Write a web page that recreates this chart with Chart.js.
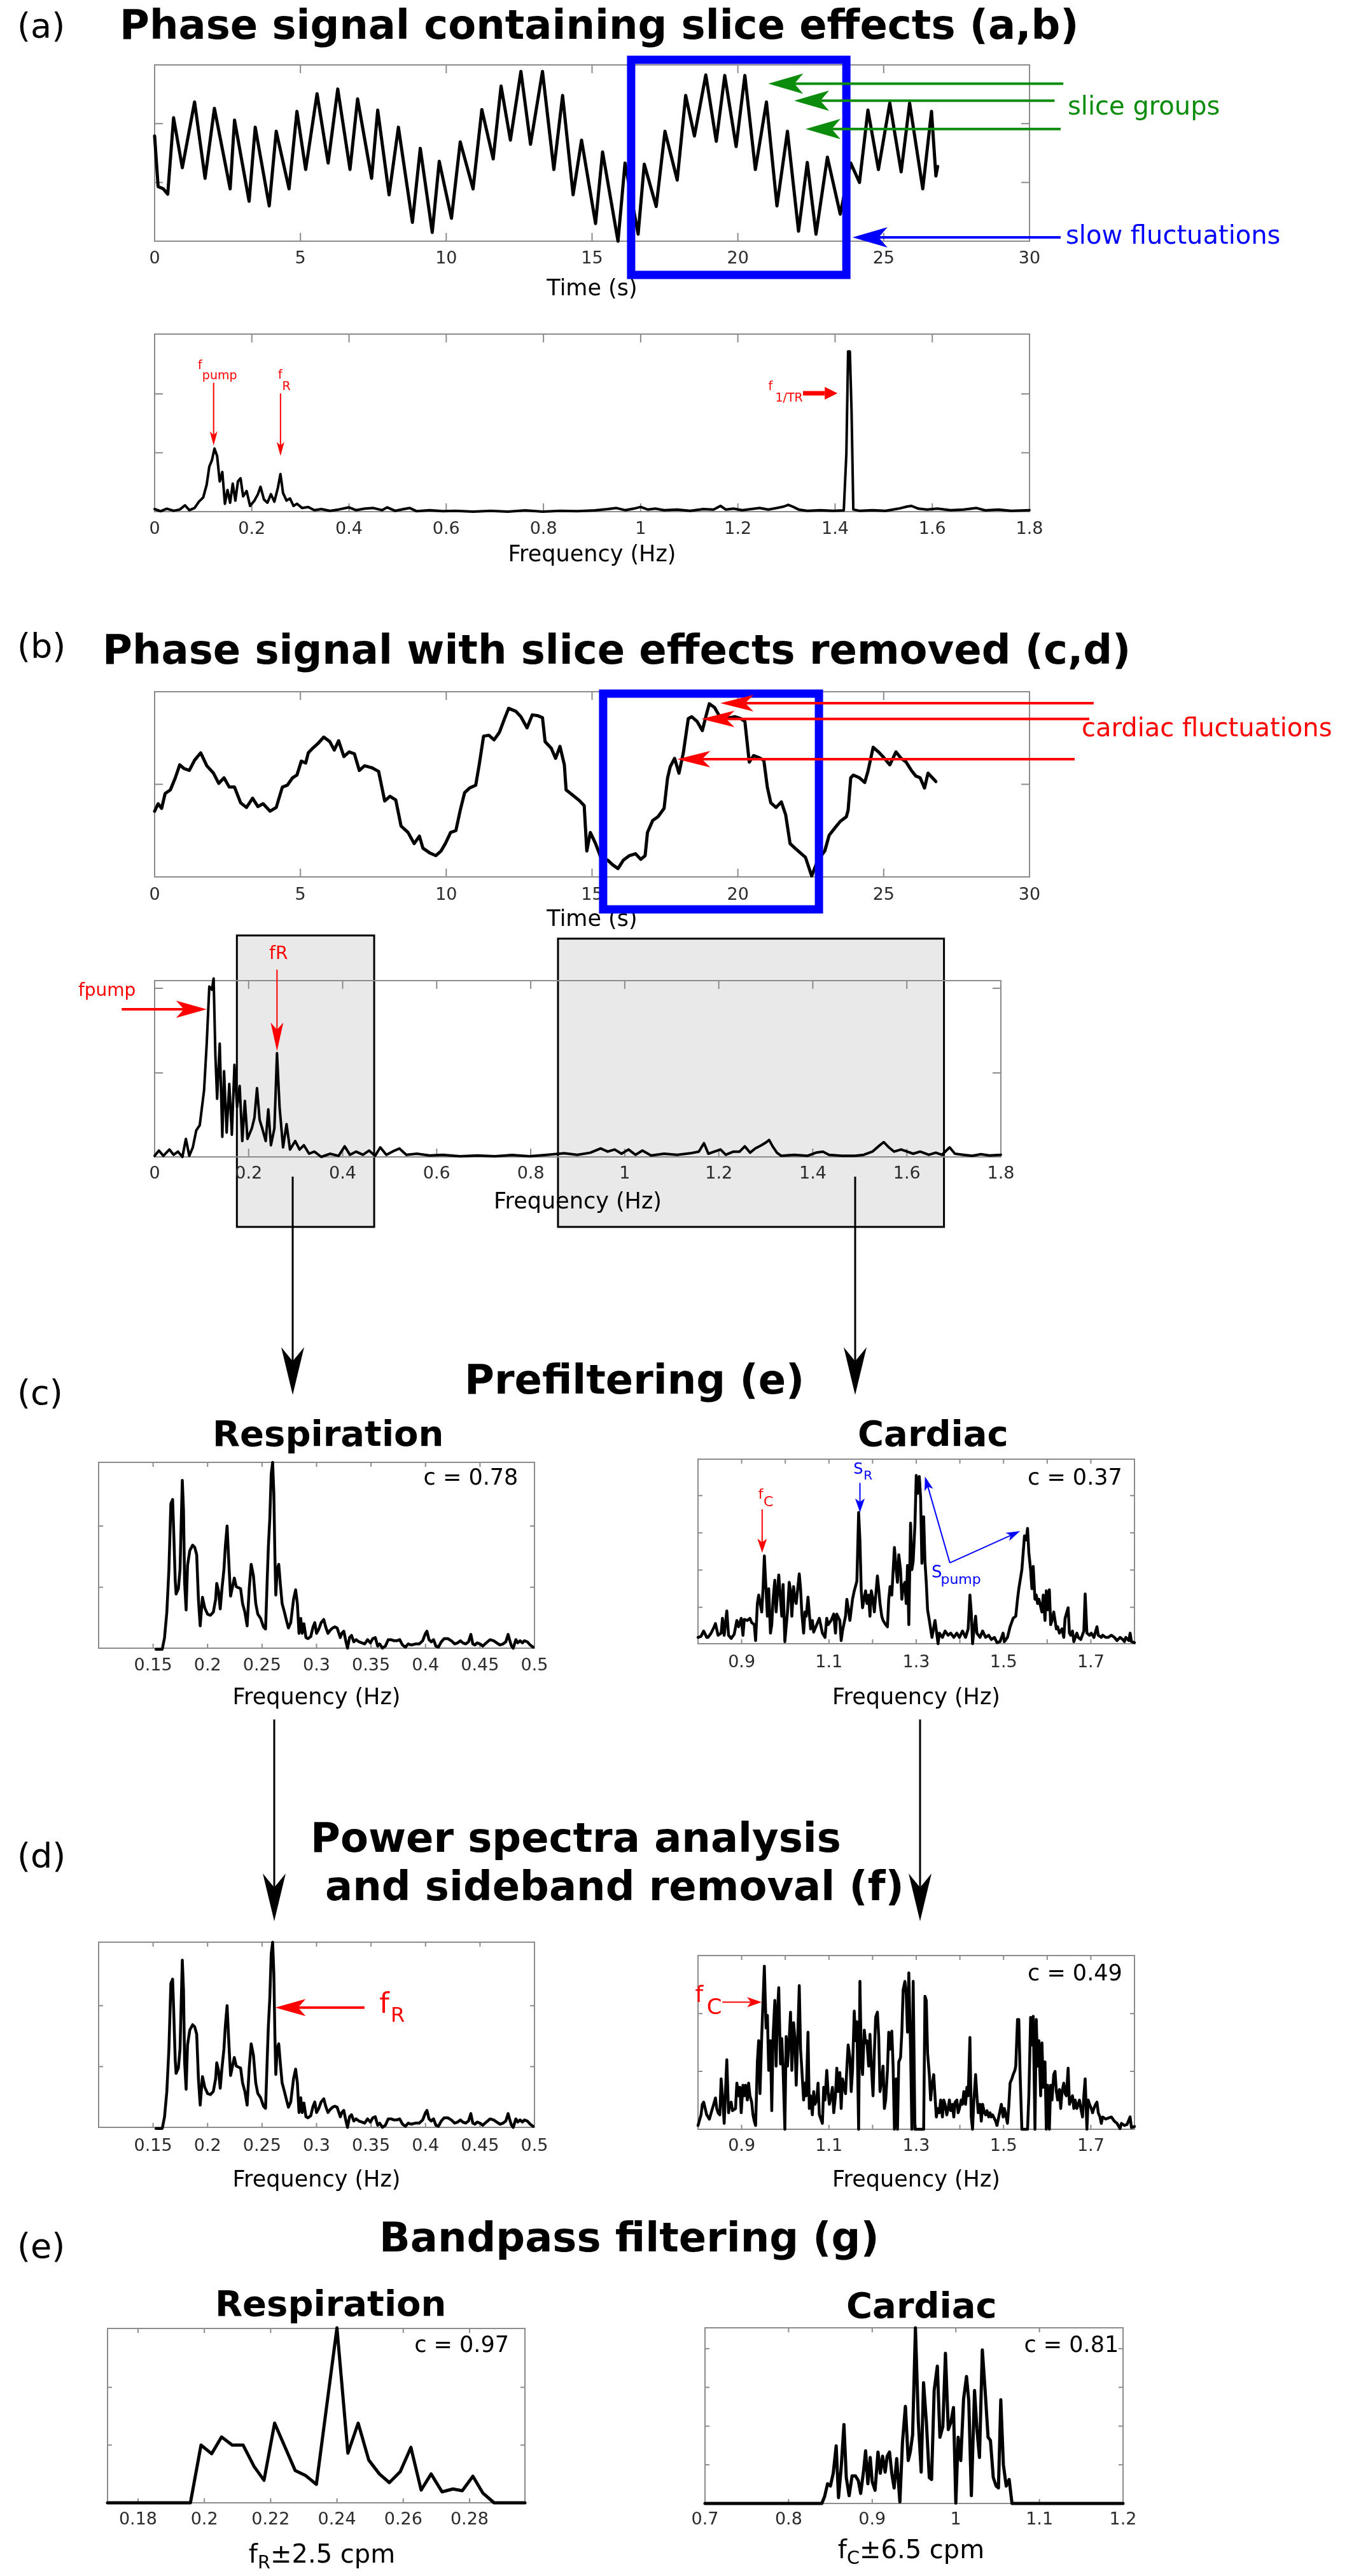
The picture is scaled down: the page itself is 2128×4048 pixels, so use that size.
<!DOCTYPE html>
<html>
<head>
<meta charset="utf-8">
<script src="https://cdn.jsdelivr.net/npm/chart.js@4.4.1/dist/chart.umd.min.js"></script>
<style>
  html, body { margin: 0; padding: 0; background: #fff; }
  #page { position: relative; width: 2128px; height: 4048px; overflow: hidden; font-family: 'DejaVu Sans', sans-serif; }
  #page canvas { position: absolute; }
  .txt { position: absolute; white-space: nowrap; line-height: 1; font-family: 'DejaVu Sans', sans-serif; }
  .txt sub { font-size: 0.72em; vertical-align: baseline; position: relative; top: 0.3em; line-height: 0; }
  #links { position: absolute; left: 0; top: 0; }
</style>
</head>
<body>
<div id="page">
  <svg id="links" width="2128" height="4048"></svg>
</div>
<script>
// ---- data ----

// (a) phase signal with slice effects, time (s) / arbitrary phase units
const sliceT = [0.00,0.12,0.30,0.45,0.65,0.95,1.37,1.73,2.05,2.59,2.74,3.24,3.45,3.93,4.17,4.61,4.88,5.18,5.57,5.95,
  6.28,6.70,6.96,7.44,7.65,8.04,8.36,8.84,9.11,9.52,9.76,10.18,10.48,10.92,11.22,11.61,11.88,12.20,12.56,12.89,
  13.30,13.69,13.99,14.35,14.64,15.12,15.36,15.89,16.13,16.58,16.79,17.20,17.50,17.92,18.21,18.51,18.90,19.26,19.55,19.94,
  20.24,20.60,20.98,21.34,21.70,22.08,22.38,22.68,23.07,23.51,23.87,24.17,24.46,24.82,25.21,25.60,25.89,26.34,26.64,26.79,26.85];
const sliceV = [179,93,89,80,210,125,237,107,226,89,206,68,194,60,187,89,221,122,251,133,
  259,122,242,107,223,79,194,32,158,15,136,39,169,89,224,140,264,172,289,165,
  289,122,248,79,172,30,152,0,133,12,131,59,187,104,248,179,283,170,282,161,
  282,122,237,60,187,17,134,12,143,46,133,100,223,122,235,118,235,89,221,111,127];

// (a) spectrum of the raw phase signal
const rawSpecF = [0,0.0125,0.025,0.0393,0.0518,0.0625,0.0714,0.0821,0.0911,0.1,
  0.1071,0.1125,0.1179,0.1232,0.1286,0.1339,0.1393,0.1446,0.15,0.1554,
  0.1607,0.1661,0.1714,0.1768,0.1821,0.1893,0.1964,0.2054,0.2125,0.2179,
  0.225,0.2321,0.2393,0.2464,0.2536,0.2589,0.2643,0.2714,0.2786,0.2857,
  0.2929,0.3036,0.3161,0.3286,0.3429,0.3607,0.3786,0.4,0.4143,0.4321,
  0.45,0.4679,0.4786,0.4946,0.5125,0.525,0.5393,0.5661,0.5929,0.6196,
  0.6554,0.6911,0.7268,0.7625,0.7982,0.8339,0.8696,0.9054,0.9321,0.95,
  0.9679,0.9857,1.0,1.0143,1.0304,1.0482,1.075,1.1018,1.1286,1.15,
  1.1643,1.175,1.1911,1.2089,1.2268,1.2446,1.2625,1.2804,1.2946,1.3036,
  1.3125,1.325,1.3429,1.3696,1.3964,1.4179,1.4232,1.4268,1.4304,1.4339,
  1.4375,1.45,1.4768,1.5036,1.5304,1.5482,1.5571,1.5714,1.5893,1.6107,
  1.6375,1.6643,1.6911,1.7089,1.7357,1.7625,1.8];
const rawSpecP = [12,2,14,4,10,30,7,17,47,67,
  127,212,242,297,262,142,187,37,102,42,
  132,52,142,157,72,97,27,52,82,117,
  57,42,82,47,112,177,87,52,62,27,
  37,17,22,7,12,4,10,20,7,14,
  17,7,20,4,12,17,2,7,2,4,
  0,4,0,6,0,4,2,6,12,17,
  7,14,22,10,14,7,10,4,12,10,
  27,10,14,7,12,17,10,17,24,32,
  24,10,4,7,4,6,272,754,754,472,
  10,4,7,4,14,24,27,14,10,14,
  7,10,17,6,10,4,7];

// (b) phase signal with slice effects removed
const cleanT = [0.00,0.12,0.24,0.36,0.54,0.71,0.86,1.01,1.19,1.37,1.58,1.79,2.02,2.20,2.38,2.56,2.74,2.95,3.15,3.36,
  3.54,3.72,3.96,4.17,4.38,4.55,4.73,4.88,5.03,5.18,5.27,5.42,5.60,5.80,6.01,6.16,6.31,6.49,6.67,6.85,
  7.02,7.20,7.44,7.68,7.89,8.07,8.27,8.45,8.69,8.90,9.08,9.20,9.43,9.64,9.82,9.97,10.15,10.33,10.48,10.63,
  10.80,11.01,11.13,11.28,11.46,11.64,11.82,12.00,12.14,12.38,12.56,12.77,12.95,13.15,13.30,13.39,13.60,13.75,13.90,14.05,
  14.11,14.35,14.58,14.73,14.82,14.94,15.12,15.30,15.54,15.71,15.89,16.07,16.28,16.49,16.67,16.82,16.90,17.08,17.26,17.47,
  17.59,17.68,17.83,17.98,18.13,18.30,18.42,18.60,18.78,18.90,19.02,19.20,19.38,19.55,19.73,19.91,20.09,20.24,20.39,20.54,
  20.71,20.89,21.01,21.13,21.31,21.49,21.64,21.79,21.96,22.14,22.32,22.53,22.74,22.98,23.13,23.33,23.51,23.72,23.78,23.87,
  23.96,24.17,24.35,24.46,24.64,24.82,25.00,25.21,25.42,25.60,25.77,25.95,26.10,26.25,26.40,26.52,26.67,26.79];
const cleanV = [71,79,74,90,94,107,121,117,115,126,134,120,112,101,107,97,97,80,75,85,
  76,79,71,75,97,99,107,110,125,123,134,139,144,151,146,137,147,130,135,133,
  115,120,118,114,82,87,83,55,48,36,44,31,26,23,28,36,48,50,72,91,
  96,99,121,152,153,148,156,171,182,179,173,161,175,174,172,146,139,128,141,121,
  94,88,82,77,28,48,36,21,18,13,9,18,23,25,19,23,48,61,65,74,
  107,119,128,112,134,171,173,168,158,173,187,183,173,171,172,173,171,168,124,131,
  129,126,97,80,75,81,67,36,31,26,21,1,18,28,45,53,60,65,72,107,
  110,107,102,114,140,135,129,121,135,128,124,115,109,107,96,112,107,103];

// (b) spectrum of the cleaned signal
const cleanSpecF = [0,0.0092,0.0185,0.0314,0.0406,0.0498,0.0591,0.0665,0.0738,0.0812,
  0.0886,0.096,0.1052,0.1108,0.1163,0.1218,0.1255,0.1292,0.1329,0.1385,
  0.144,0.1477,0.1532,0.1588,0.1643,0.1698,0.1754,0.1809,0.1865,0.192,
  0.1975,0.2068,0.2123,0.2178,0.2234,0.2289,0.2363,0.2418,0.2474,0.2548,
  0.2603,0.2658,0.2732,0.2806,0.288,0.2991,0.3083,0.3175,0.3286,0.3397,
  0.3545,0.3729,0.3914,0.4043,0.4154,0.4283,0.4431,0.456,0.4689,0.48,
  0.4929,0.5058,0.5206,0.5354,0.5575,0.5852,0.6129,0.6498,0.6868,0.7237,
  0.7606,0.7975,0.8345,0.8714,0.8991,0.9268,0.9489,0.9637,0.9785,0.9932,
  1.008,1.0228,1.0375,1.056,1.0837,1.1114,1.1391,1.1575,1.1686,1.1778,
  1.1908,1.2037,1.2148,1.2314,1.2443,1.2554,1.2665,1.2775,1.2905,1.3015,
  1.3071,1.3145,1.3237,1.3329,1.3606,1.3883,1.4068,1.4215,1.4345,1.4622,
  1.4898,1.5083,1.5268,1.5397,1.5508,1.5618,1.5729,1.5877,1.6006,1.6135,
  1.6283,1.6468,1.6615,1.6745,1.6911,1.7022,1.7206,1.7391,1.7575,1.776,1.8];
const cleanSpecP = [5,30,5,35,10,25,0,85,5,45,
  125,150,315,535,805,790,843,485,275,535,
  95,405,115,345,105,435,235,335,75,265,
  85,135,185,325,175,135,75,225,55,135,
  490,235,45,155,35,75,35,55,15,25,
  0,15,5,50,10,25,10,30,5,45,
  10,25,40,10,15,7,10,3,7,3,
  9,3,10,17,10,20,40,25,35,15,
  35,10,30,7,15,10,17,25,65,15,
  25,35,10,25,25,50,20,40,55,70,
  80,50,20,5,10,5,20,25,10,5,
  5,10,25,50,70,45,25,35,25,15,
  25,10,20,10,45,15,10,5,13,7,10];

// (c)/(d) respiration band spectrum
const respF = [0.1526,0.1584,0.1605,0.1626,0.1645,0.1663,0.1679,0.1689,0.1703,0.1711,
  0.1732,0.1747,0.1768,0.1779,0.1789,0.1803,0.1816,0.1837,0.1863,0.1882,
  0.19,0.1916,0.1932,0.1953,0.1974,0.2,0.2026,0.2053,0.2074,0.2084,
  0.21,0.2116,0.2132,0.215,0.2163,0.2179,0.2197,0.2211,0.2229,0.2245,
  0.2263,0.2282,0.2303,0.2321,0.2342,0.2363,0.2382,0.24,0.2421,0.2442,
  0.2461,0.2487,0.2513,0.2532,0.2545,0.2558,0.2571,0.2584,0.2597,0.2608,
  0.2618,0.2626,0.2639,0.2653,0.2668,0.2684,0.2705,0.2724,0.2742,0.2763,
  0.2789,0.2808,0.2824,0.2839,0.2855,0.2868,0.2884,0.2903,0.2921,0.2947,
  0.2968,0.2984,0.3,0.3021,0.3042,0.3066,0.3084,0.3105,0.3126,0.3147,
  0.3168,0.3189,0.3205,0.3218,0.3232,0.325,0.3268,0.3284,0.3303,0.3321,
  0.3342,0.3363,0.3389,0.3416,0.3442,0.3468,0.3495,0.3516,0.3539,0.3561,
  0.3579,0.3605,0.3632,0.3658,0.3684,0.3711,0.3737,0.3763,0.3789,0.3816,
  0.3842,0.3868,0.3908,0.3942,0.3974,0.4,0.4013,0.4032,0.4053,0.4074,
  0.4095,0.4118,0.4145,0.4171,0.4205,0.4237,0.4268,0.4295,0.4321,0.4342,
  0.4368,0.4395,0.4416,0.4434,0.4453,0.4474,0.45,0.4526,0.4558,0.4592,
  0.4626,0.4653,0.4684,0.4711,0.4737,0.4758,0.4771,0.4789,0.4805,0.4829,
  0.4847,0.4868,0.4889,0.4908,0.4934,0.4961,0.4987];
const respP = [-5,-5,50,170,370,680,700,550,320,255,
  280,370,790,650,310,180,390,460,485,475,
  440,230,105,240,190,160,155,170,230,305,
  270,185,280,370,480,575,380,245,290,330,
  290,285,280,210,170,105,280,395,340,210,
  160,140,100,90,290,480,610,820,875,730,
  430,250,370,395,300,210,170,130,95,120,
  230,275,210,70,140,70,115,50,45,55,
  100,120,70,90,120,135,100,70,85,95,
  100,95,70,50,70,80,35,0,50,60,
  30,40,30,25,20,40,25,45,50,10,
  20,0,10,40,40,35,35,40,15,5,
  20,15,20,20,35,70,80,40,30,40,
  10,5,30,45,45,35,20,25,35,25,
  20,30,65,20,15,25,20,10,25,40,
  35,25,15,20,30,65,40,10,0,40,
  25,35,25,35,30,15,5];

// (c) cardiac band spectrum after prefiltering
const cardPreF = [0.800,0.807,0.813,0.820,0.823,0.830,0.836,0.840,0.846,0.853,
  0.856,0.860,0.866,0.870,0.876,0.883,0.889,0.893,0.899,0.903,
  0.906,0.913,0.919,0.923,0.929,0.932,0.936,0.939,0.946,0.949,
  0.952,0.956,0.959,0.962,0.966,0.969,0.972,0.976,0.979,0.985,
  0.989,0.992,0.995,0.999,1.005,1.009,1.012,1.015,1.019,1.022,
  1.025,1.032,1.035,1.038,1.042,1.045,1.048,1.052,1.058,1.062,
  1.065,1.072,1.078,1.085,1.091,1.095,1.098,1.105,1.111,1.115,
  1.118,1.125,1.128,1.131,1.138,1.141,1.144,1.148,1.154,1.158,
  1.164,1.168,1.171,1.174,1.177,1.181,1.184,1.187,1.191,1.194,
  1.197,1.201,1.204,1.211,1.214,1.217,1.221,1.224,1.230,1.234,
  1.237,1.240,1.244,1.250,1.254,1.257,1.260,1.264,1.267,1.270,
  1.274,1.277,1.280,1.283,1.287,1.290,1.293,1.297,1.300,1.303,
  1.307,1.310,1.313,1.317,1.320,1.323,1.326,1.330,1.336,1.343,
  1.350,1.353,1.360,1.366,1.373,1.379,1.386,1.393,1.399,1.406,
  1.413,1.419,1.423,1.426,1.429,1.432,1.436,1.439,1.446,1.452,
  1.459,1.466,1.472,1.479,1.485,1.492,1.499,1.502,1.509,1.515,
  1.522,1.528,1.532,1.535,1.542,1.545,1.548,1.552,1.555,1.558,
  1.562,1.565,1.568,1.572,1.575,1.578,1.581,1.588,1.591,1.595,
  1.598,1.601,1.605,1.608,1.611,1.615,1.621,1.624,1.628,1.634,
  1.638,1.641,1.648,1.651,1.654,1.658,1.661,1.668,1.671,1.677,
  1.684,1.687,1.691,1.697,1.701,1.707,1.714,1.717,1.724,1.727,
  1.734,1.740,1.747,1.754,1.760,1.767,1.773,1.777,1.780,1.787,
  1.790,1.793,1.800];
const cardPreP = [30,35,60,30,30,50,75,95,40,50,
  120,40,155,40,25,45,110,80,120,40,
  115,110,120,100,90,15,190,230,150,260,
  415,250,130,260,50,90,210,300,150,325,
  210,130,280,10,150,290,250,130,270,210,
  190,330,260,140,50,150,130,220,70,110,
  55,90,120,50,30,120,90,110,140,50,
  140,110,15,60,130,210,170,110,210,250,
  295,620,490,250,170,220,250,190,230,130,
  250,210,150,320,260,190,130,110,90,80,
  210,270,230,455,350,290,420,350,210,270,
  290,190,370,90,570,350,390,560,795,710,
  790,690,380,600,390,290,160,110,30,110,
  0,50,30,60,40,50,30,50,30,60,
  30,70,230,150,0,60,130,50,30,60,
  30,40,20,30,5,10,50,10,30,80,
  120,130,210,260,350,430,510,490,545,430,
  350,260,365,210,230,190,210,150,230,110,
  250,160,255,90,110,150,70,80,50,70,
  30,120,170,50,40,60,10,50,30,20,
  60,235,50,40,50,30,80,40,30,40,
  30,30,40,30,15,30,20,10,30,15,
  50,10,5];

// (d) cardiac band spectrum after sideband removal
const cardPostF = [0.800,0.807,0.810,0.813,0.820,0.823,0.826,0.833,0.836,0.840,
  0.843,0.846,0.850,0.853,0.856,0.860,0.866,0.870,0.873,0.876,
  0.879,0.886,0.889,0.893,0.896,0.899,0.903,0.906,0.909,0.913,
  0.916,0.919,0.923,0.926,0.929,0.932,0.936,0.939,0.942,0.946,
  0.952,0.956,0.959,0.962,0.966,0.969,0.972,0.976,0.979,0.982,
  0.985,0.989,0.992,0.995,0.999,1.002,1.005,1.009,1.012,1.015,
  1.019,1.022,1.025,1.028,1.032,1.035,1.038,1.042,1.045,1.048,
  1.052,1.055,1.058,1.062,1.065,1.068,1.072,1.075,1.078,1.085,
  1.088,1.091,1.095,1.098,1.101,1.105,1.108,1.111,1.115,1.118,
  1.121,1.125,1.128,1.131,1.138,1.141,1.144,1.148,1.151,1.154,
  1.158,1.161,1.164,1.168,1.171,1.174,1.177,1.181,1.184,1.187,
  1.191,1.194,1.197,1.201,1.204,1.207,1.211,1.214,1.217,1.221,
  1.224,1.227,1.230,1.234,1.237,1.240,1.244,1.247,1.250,1.254,
  1.257,1.260,1.264,1.267,1.270,1.274,1.277,1.280,1.283,1.287,
  1.290,1.293,1.297,1.317,1.320,1.323,1.326,1.330,1.333,1.336,
  1.340,1.343,1.346,1.350,1.353,1.356,1.360,1.363,1.366,1.370,
  1.373,1.376,1.379,1.383,1.386,1.389,1.393,1.396,1.399,1.403,
  1.406,1.409,1.413,1.416,1.419,1.423,1.426,1.429,1.432,1.436,
  1.439,1.442,1.446,1.449,1.452,1.456,1.459,1.462,1.466,1.469,
  1.472,1.475,1.482,1.485,1.489,1.492,1.495,1.499,1.502,1.509,
  1.512,1.515,1.519,1.522,1.526,1.528,1.532,1.535,1.538,1.542,
  1.555,1.558,1.562,1.565,1.568,1.572,1.575,1.578,1.581,1.585,
  1.588,1.591,1.595,1.598,1.601,1.605,1.608,1.611,1.615,1.618,
  1.621,1.624,1.628,1.631,1.634,1.638,1.641,1.644,1.648,1.651,
  1.654,1.658,1.661,1.664,1.668,1.671,1.674,1.677,1.681,1.684,
  1.687,1.691,1.694,1.697,1.701,1.704,1.707,1.711,1.714,1.717,
  1.721,1.724,1.727,1.734,1.740,1.747,1.754,1.760,1.767,1.770,
  1.777,1.783,1.790,1.793,1.800];
const cardPostP = [18,68,118,128,68,58,48,98,118,148,
  98,78,68,238,158,28,328,78,118,128,
  88,98,218,158,198,78,208,158,208,138,
  218,158,128,68,38,18,318,418,168,438,
  770,478,538,278,418,88,438,608,298,548,
  668,308,428,278,0,438,298,428,553,278,
  503,428,208,398,678,378,278,138,218,158,
  458,98,158,68,178,118,138,218,68,28,
  198,138,278,178,118,158,198,78,158,288,
  178,268,98,238,168,288,398,338,178,278,
  558,418,508,0,698,338,258,468,408,418,
  298,448,308,158,358,528,553,438,178,238,
  298,98,138,278,458,378,463,298,0,238,
  0,318,338,458,658,698,638,458,738,378,
  0,698,0,0,628,608,358,258,138,208,
  258,158,58,98,78,138,58,138,118,68,
  98,138,88,118,58,128,138,78,98,138,
  118,178,118,198,158,433,58,0,138,258,
  158,78,118,38,118,78,68,88,58,78,
  58,68,38,18,58,88,118,58,98,28,
  108,218,238,258,278,298,518,518,258,0,
  0,158,528,398,533,0,518,298,418,158,
  408,198,318,0,208,0,208,138,258,273,
  178,138,188,98,178,218,168,158,288,118,
  138,158,98,138,98,118,138,98,58,158,
  238,0,138,118,98,78,98,118,128,78,
  58,28,58,48,53,58,38,28,3,28,
  18,23,58,8,13];

// (e) bandpass filtered spectra
const bandRespF = [0.1708,0.1958,0.199,0.2022,0.2052,0.2084,0.2117,0.215,0.218,0.2212,
  0.2243,0.2274,0.2306,0.2338,0.24,0.2433,0.2464,0.2496,0.2528,0.2558,
  0.2591,0.2623,0.2654,0.2684,0.2717,0.275,0.2778,0.281,0.284,0.2874,0.2967];
const bandRespP = [0,0,100,85,114,100,100,63,39,138,
  97,56,47,32,303,86,138,74,50,35,
  54,96,22,50,19,24,21,46,17,0,0];
const bandCardF = [0.7,0.8397,0.8431,0.8466,0.85,0.8534,0.8569,0.8597,0.8628,0.8662,
  0.869,0.8724,0.8759,0.88,0.8834,0.8862,0.8897,0.8921,0.8948,0.8976,
  0.9,0.9034,0.9069,0.9097,0.9124,0.9155,0.9179,0.9207,0.9234,0.9262,
  0.9293,0.9331,0.9362,0.9397,0.9431,0.9455,0.9483,0.9517,0.9552,0.9586,
  0.9614,0.9648,0.9683,0.971,0.9741,0.9779,0.981,0.9845,0.9876,0.991,
  0.9941,0.9972,1.0,1.0028,1.0059,1.0093,1.0128,1.0155,1.0186,1.0224,
  1.0252,1.0283,1.0317,1.0352,1.0386,1.0414,1.0448,1.0483,1.051,1.0538,
  1.0569,1.0603,1.0638,1.0672,1.2];
const bandCardP = [0,0,18,51,45,78,149,15,90,204,
  67,20,71,71,59,26,84,136,51,119,
  56,34,133,78,122,81,122,133,78,40,
  116,4,158,251,111,133,177,454,210,81,
  312,210,67,62,292,355,171,199,388,191,
  210,248,1,171,111,270,328,265,20,292,
  193,119,397,287,171,163,67,45,40,268,
  100,45,62,0,0];

// tick positions / labels
const timeTicks = [0, 5, 10, 15, 20, 25, 30];
const freqTicks = [0, 0.2, 0.4, 0.6, 0.8, 1, 1.2, 1.4, 1.6, 1.8];
const respTicks = [0.15, 0.2, 0.25, 0.3, 0.35, 0.4, 0.45, 0.5];
const cardTicks = [0.9, 1.0, 1.1, 1.2, 1.3, 1.4, 1.5, 1.6, 1.7];
const cardTickLabels = ['0.9', '', '1.1', '', '1.3', '', '1.5', '', '1.7'];
const bandRespTicks = [0.18, 0.2, 0.22, 0.24, 0.26, 0.28];
const bandCardTicks = [0.7, 0.8, 0.9, 1, 1.1, 1.2];

// ---- drawing ----
const RED = '#ff0000', BLUE = '#0000ff', GREEN = '#0c8c0c';
const TICK_FONT = { family: 'DejaVu Sans', size: 27, lineHeight: 1.2 };
const TITLE_FONT = { family: 'DejaVu Sans', size: 35, lineHeight: 1.2 };
const page = document.getElementById('page');
const pts = (xs, ys) => xs.map((x, i) => ({ x, y: ys[i] }));
const fmtTick = v => String(Math.round(v * 1000) / 1000);

function drawArrow(ctx, x1, y1, x2, y2, a) {
  const ang = Math.atan2(y2 - y1, x2 - x1);
  const ux = Math.cos(ang), uy = Math.sin(ang);
  const len = a.head[0], half = a.head[1] / 2;
  const notch = len * (a.notch === undefined ? 0.25 : a.notch);
  const bx = x2 - ux * len, by = y2 - uy * len;
  const nx = x2 - ux * (len - notch), ny = y2 - uy * (len - notch);
  ctx.save();
  ctx.strokeStyle = a.color; ctx.fillStyle = a.color; ctx.lineWidth = a.w;
  ctx.beginPath(); ctx.moveTo(x1, y1); ctx.lineTo(nx, ny); ctx.stroke();
  ctx.beginPath();
  ctx.moveTo(x2, y2);
  ctx.lineTo(bx - uy * half, by + ux * half);
  ctx.lineTo(nx, ny);
  ctx.lineTo(bx + uy * half, by - ux * half);
  ctx.closePath(); ctx.fill();
  ctx.restore();
}

function deco(c) {
  return {
    id: 'deco',
    beforeDraw(chart) {
      const { ctx, chartArea: a } = chart, sx = chart.scales.x;
      (c.bands || []).forEach(b => {
        const x0 = sx.getPixelForValue(b.x0), x1 = sx.getPixelForValue(b.x1);
        const y0 = a.top + b.top, y1 = a.bottom + b.bottom;
        ctx.save();
        ctx.fillStyle = '#e9e9e9';
        ctx.fillRect(x0, y0, x1 - x0, y1 - y0);
        ctx.strokeStyle = '#000'; ctx.lineWidth = 3;
        ctx.strokeRect(x0, y0, x1 - x0, y1 - y0);
        ctx.restore();
      });
    },
    beforeDatasetsDraw(chart) {
      const { ctx, chartArea: a } = chart, sx = chart.scales.x, sy = chart.scales.y;
      const L = c.tickLen;
      ctx.save();
      ctx.strokeStyle = '#8c8c8c'; ctx.lineWidth = 2;
      ctx.strokeRect(a.left, a.top, a.right - a.left, a.bottom - a.top);
      ctx.beginPath();
      c.xTicks.forEach(v => {
        const X = sx.getPixelForValue(v);
        ctx.moveTo(X, a.bottom); ctx.lineTo(X, a.bottom - L);
        ctx.moveTo(X, a.top); ctx.lineTo(X, a.top + L);
      });
      c.yTicks.forEach(v => {
        const Y = sy.getPixelForValue(v);
        ctx.moveTo(a.left, Y); ctx.lineTo(a.left + L, Y);
        ctx.moveTo(a.right, Y); ctx.lineTo(a.right - L, Y);
      });
      ctx.stroke();
      ctx.restore();
    },
    afterDraw(chart) {
      const { ctx, chartArea: a } = chart, sx = chart.scales.x, sy = chart.scales.y;
      (c.boxes || []).forEach(b => {
        const x0 = sx.getPixelForValue(b.x0), x1 = sx.getPixelForValue(b.x1);
        ctx.save();
        ctx.strokeStyle = BLUE; ctx.lineWidth = 13;
        ctx.strokeRect(x0, a.top + b.top, x1 - x0, a.bottom + b.bottom - a.top - b.top);
        ctx.restore();
      });
      (c.arrows || []).forEach(ar => {
        drawArrow(ctx, sx.getPixelForValue(ar.from[0]), sy.getPixelForValue(ar.from[1]),
          sx.getPixelForValue(ar.to[0]), sy.getPixelForValue(ar.to[1]), ar);
      });
      (c.texts || []).forEach(t => {
        ctx.save();
        ctx.font = t.size + 'px "DejaVu Sans"';
        ctx.fillStyle = t.color || '#000';
        ctx.textAlign = t.align || 'left';
        ctx.textBaseline = 'alphabetic';
        ctx.fillText(t.t, sx.getPixelForValue(t.x), sy.getPixelForValue(t.y));
        ctx.restore();
      });
    }
  };
}

function panel(g, c) {
  const tickPad = g.labelY - g.b - TICK_FONT.size * 0.6;
  let axisH = 2 * tickPad + TICK_FONT.size * 1.2;
  let title = { display: false };
  if (c.xTitle) {
    const lh = TITLE_FONT.size * 1.2;
    const padTop = g.titleY - lh / 2 - (g.b + axisH);
    title = { display: true, text: c.xTitle, color: '#000', font: TITLE_FONT, padding: { top: padTop, bottom: 0 } };
    axisH += padTop + lh;
  }
  const padB = g.padB || 0;
  const W = g.r - g.l + g.padL + g.padR;
  const rawH = g.b - g.t + g.padT + axisH + padB;
  const H = Math.ceil(rawH);
  const cv = document.createElement('canvas');
  cv.width = W; cv.height = H;
  cv.style.left = (g.l - g.padL) + 'px';
  cv.style.top = (g.t - g.padT) + 'px';
  page.insertBefore(cv, document.getElementById('links'));
  new Chart(cv, {
    type: 'line',
    data: {
      datasets: c.series.map(s => ({
        data: pts(s.x, s.y), borderColor: '#000', borderWidth: c.lw, pointRadius: 0,
        tension: 0, clip: false, borderJoinStyle: 'round', borderCapStyle: 'round'
      }))
    },
    options: {
      responsive: false, animation: false, events: [],
      layout: { padding: { left: g.padL, right: g.padR, top: g.padT, bottom: padB + (H - rawH) } },
      plugins: { legend: { display: false }, tooltip: { enabled: false } },
      scales: {
        x: {
          type: 'linear', min: c.xMin, max: c.xMax,
          grid: { display: false, drawTicks: false }, border: { display: false },
          afterBuildTicks: sc => { sc.ticks = c.xTicks.map(v => ({ value: v })); },
          ticks: {
            font: TICK_FONT, color: '#2b2b2b', padding: tickPad, maxRotation: 0, minRotation: 0, autoSkip: false,
            callback: (v, i) => c.xLabels ? c.xLabels[i] : fmtTick(v)
          },
          title: title
        },
        y: { type: 'linear', display: false, min: 0, max: c.yMax }
      }
    },
    plugins: [deco(c)]
  });
}

// (a) raw phase signal
panel({ l: 243, t: 102, r: 1618, b: 379, padT: 25, padL: 40, padR: 510, labelY: 407, titleY: 455 }, {
  series: [{ x: sliceT, y: sliceV }], lw: 5, xMin: 0, xMax: 30, yMax: 300,
  xTicks: timeTicks, yTicks: [100, 200], tickLen: 13, xTitle: 'Time (s)',
  boxes: [{ x0: 16.34, x1: 23.72, top: -8, bottom: 53 }],
  arrows: [
    { from: [31.16, 268], to: [21.04, 268], color: GREEN, w: 4, head: [55, 32] },
    { from: [30.86, 239], to: [21.93, 239], color: GREEN, w: 4, head: [55, 32] },
    { from: [31.07, 191], to: [22.32, 191], color: GREEN, w: 4, head: [55, 32] },
    { from: [31.07, 6.5], to: [23.93, 6.5], color: BLUE, w: 4, head: [55, 32] }
  ]
});

// (a) spectrum
panel({ l: 243, t: 525, r: 1618, b: 804, padT: 20, padL: 40, padR: 40, labelY: 832, titleY: 873 }, {
  series: [{ x: rawSpecF, y: rawSpecP }], lw: 4, xMin: 0, xMax: 1.8, yMax: 836,
  xTicks: freqTicks, yTicks: [277, 554], tickLen: 13, xTitle: 'Frequency (Hz)',
  arrows: [
    { from: [0.1214, 607], to: [0.1214, 312], color: RED, w: 2, head: [22, 12] },
    { from: [0.259, 557], to: [0.259, 262], color: RED, w: 2, head: [22, 12] },
    { from: [1.334, 557], to: [1.405, 557], color: RED, w: 7, head: [20, 20], notch: 0 }
  ],
  texts: [
    { x: 0.089, y: 672, t: 'f', size: 19, color: RED },
    { x: 0.098, y: 622, t: 'pump', size: 19, color: RED },
    { x: 0.254, y: 627, t: 'f', size: 19, color: RED },
    { x: 0.2625, y: 572, t: 'R', size: 19, color: RED },
    { x: 1.2625, y: 572, t: 'f', size: 19, color: RED },
    { x: 1.277, y: 517, t: '1/TR', size: 19, color: RED }
  ]
});

// (b) cleaned phase signal
panel({ l: 243, t: 1087, r: 1618, b: 1378, padT: 15, padL: 40, padR: 510, labelY: 1407, titleY: 1446 }, {
  series: [{ x: cleanT, y: cleanV }], lw: 5, xMin: 0, xMax: 30, yMax: 200,
  xTicks: timeTicks, yTicks: [100], tickLen: 13, xTitle: 'Time (s)',
  boxes: [{ x0: 15.38, x1: 22.78, top: 3, bottom: 51 }],
  arrows: [
    { from: [32.2, 187.7], to: [19.4, 187.7], color: RED, w: 4, head: [52, 26] },
    { from: [32.05, 170.6], to: [18.75, 170.6], color: RED, w: 4, head: [52, 26] },
    { from: [31.55, 127.1], to: [17.92, 127.1], color: RED, w: 4, head: [52, 26] }
  ]
});

// (b) spectrum with selected bands
panel({ l: 243, t: 1541, r: 1573, b: 1818, padT: 80, padL: 140, padR: 40, padB: 25, labelY: 1845, titleY: 1890 }, {
  series: [{ x: cleanSpecF, y: cleanSpecP }], lw: 4, xMin: 0, xMax: 1.8, yMax: 833,
  xTicks: freqTicks, yTicks: [397, 797], tickLen: 13, xTitle: 'Frequency (Hz)',
  bands: [{ x0: 0.175, x1: 0.467, top: -71, bottom: 110 }, { x0: 0.858, x1: 1.679, top: -66, bottom: 110 }],
  arrows: [
    { from: [-0.07, 698], to: [0.1108, 698], color: RED, w: 4, head: [48, 27] },
    { from: [0.2603, 885], to: [0.2603, 500], color: RED, w: 2, head: [45, 20] }
  ],
  texts: [
    { x: -0.1625, y: 760, t: 'fpump', size: 28, color: RED },
    { x: 0.2437, y: 935, t: 'fR', size: 28, color: RED }
  ]
});

// (c) prefiltering
panel({ l: 155, t: 2298, r: 840, b: 2590, padT: 10, padL: 40, padR: 40, labelY: 2618, titleY: 2669 }, {
  series: [{ x: respF, y: respP }], lw: 4.5, xMin: 0.1, xMax: 0.5, yMax: 875,
  xTicks: respTicks, yTicks: [287, 575], tickLen: 7, xTitle: 'Frequency (Hz)',
  texts: [{ x: 0.485, y: 770, t: 'c = 0.78', size: 35, align: 'right' }]
});
panel({ l: 1097, t: 2293, r: 1783, b: 2583, padT: 10, padL: 40, padR: 40, labelY: 2613, titleY: 2669 }, {
  series: [{ x: cardPreF, y: cardPreP }], lw: 4.5, xMin: 0.8, xMax: 1.8, yMax: 872,
  xTicks: cardTicks, xLabels: cardTickLabels, yTicks: [172, 348, 524, 700], tickLen: 7, xTitle: 'Frequency (Hz)',
  arrows: [
    { from: [0.947, 635], to: [0.947, 430], color: RED, w: 2, head: [22, 15] },
    { from: [1.171, 760], to: [1.171, 620], color: BLUE, w: 2, head: [22, 15] },
    { from: [1.377, 382], to: [1.320, 790], color: BLUE, w: 2, head: [22, 14] },
    { from: [1.377, 382], to: [1.538, 532], color: BLUE, w: 2, head: [22, 14] }
  ],
  texts: [
    { x: 0.938, y: 685, t: 'f', size: 22, color: RED },
    { x: 0.950, y: 648, t: 'C', size: 22, color: RED },
    { x: 1.156, y: 802, t: 'S', size: 24, color: BLUE },
    { x: 1.1795, y: 775, t: 'R', size: 20, color: BLUE },
    { x: 1.335, y: 312, t: 'S', size: 26, color: BLUE },
    { x: 1.356, y: 282, t: 'pump', size: 22, color: BLUE },
    { x: 1.772, y: 752, t: 'c = 0.37', size: 35, align: 'right' }
  ]
});

// (d) power spectra analysis and sideband removal
panel({ l: 155, t: 3052, r: 840, b: 3343, padT: 10, padL: 40, padR: 40, labelY: 3373, titleY: 3427 }, {
  series: [{ x: respF, y: respP }], lw: 4.5, xMin: 0.1, xMax: 0.5, yMax: 875,
  xTicks: respTicks, yTicks: [287, 575], tickLen: 7, xTitle: 'Frequency (Hz)',
  arrows: [{ from: [0.344, 566], to: [0.262, 566], color: RED, w: 4, head: [48, 27] }],
  texts: [
    { x: 0.3577, y: 542, t: 'f', size: 44, color: RED },
    { x: 0.368, y: 499, t: 'R', size: 32, color: RED }
  ]
});
panel({ l: 1097, t: 3073, r: 1783, b: 3346, padT: 10, padL: 40, padR: 40, labelY: 3373, titleY: 3427 }, {
  series: [{ x: cardPostF, y: cardPostP }], lw: 4.5, xMin: 0.8, xMax: 1.8, yMax: 820,
  xTicks: cardTicks, xLabels: cardTickLabels, yTicks: [273, 546], tickLen: 7, xTitle: 'Frequency (Hz)',
  arrows: [{ from: [0.856, 600], to: [0.946, 600], color: RED, w: 2, head: [23, 16] }],
  texts: [
    { x: 0.7934, y: 600, t: 'f', size: 36, color: RED },
    { x: 0.820, y: 543, t: 'C', size: 34, color: RED },
    { x: 1.772, y: 703, t: 'c = 0.49', size: 35, align: 'right' }
  ]
});

// (e) bandpass filtering
panel({ l: 169, t: 3659, r: 825, b: 3933, padT: 10, padL: 40, padR: 40, labelY: 3960 }, {
  series: [{ x: bandRespF, y: bandRespP }], lw: 5, xMin: 0.1708, xMax: 0.2967, yMax: 302,
  xTicks: bandRespTicks, yTicks: [100, 200], tickLen: 7,
  texts: [{ x: 0.2919, y: 261, t: 'c = 0.97', size: 35, align: 'right' }]
});
panel({ l: 1108, t: 3658, r: 1765, b: 3934, padT: 10, padL: 40, padR: 40, labelY: 3960 }, {
  series: [{ x: bandCardF, y: bandCardP }], lw: 5, xMin: 0.7, xMax: 1.2, yMax: 454,
  xTicks: bandCardTicks, yTicks: [100, 200, 300, 400], tickLen: 7,
  texts: [{ x: 1.1948, y: 391, t: 'c = 0.81', size: 35, align: 'right' }]
});

// ---- headings and labels ----
function put(html, x, base, size, o) {
  o = o || {};
  const d = document.createElement('div');
  d.className = 'txt';
  d.innerHTML = html;
  d.style.fontSize = size + 'px';
  d.style.fontWeight = o.bold ? 'bold' : 'normal';
  d.style.color = o.color || '#000';
  d.style.left = x + 'px';
  d.style.top = (base - 0.846 * size) + 'px';
  if (o.center) d.style.transform = 'translateX(-50%)';
  page.appendChild(d);
}
put('(a)', 27, 60, 54);
put('Phase signal containing slice effects (a,b)', 188, 61, 64, { bold: true });
put('slice groups', 1678, 180, 40, { color: GREEN });
put('slow fluctuations', 1675, 383, 40, { color: BLUE });
put('(b)', 27, 1035, 54);
put('Phase signal with slice effects removed (c,d)', 161, 1043, 64, { bold: true });
put('cardiac fluctuations', 1700, 1157, 40, { color: RED });
put('(c)', 27, 2208, 54);
put('Prefiltering (e)', 730, 2190, 64, { bold: true });
put('Respiration', 334, 2272, 56, { bold: true });
put('Cardiac', 1348, 2272, 56, { bold: true });
put('(d)', 27, 2936, 54);
put('Power spectra analysis', 488, 2910, 64, { bold: true });
put('and sideband removal (f)', 511, 2986, 64, { bold: true });
put('(e)', 27, 3549, 54);
put('Bandpass filtering (g)', 596, 3538, 64, { bold: true });
put('Respiration', 338, 3639, 56, { bold: true });
put('Cardiac', 1330, 3642, 56, { bold: true });
put('f<sub>R</sub>±2.5 cpm', 506, 4027, 40, { center: true });
put('f<sub>C</sub>±6.5 cpm', 1432, 4020, 40, { center: true });

// ---- connecting arrows between stages ----
const svg = document.getElementById('links');
const NS = 'http://www.w3.org/2000/svg';
[[460, 1849, 2192], [1344, 1849, 2192], [431, 2702, 3019], [1446, 2702, 3019]].forEach(([x, y1, y2]) => {
  const len = 75, half = 18, notch = 22;
  const ln = document.createElementNS(NS, 'line');
  ln.setAttribute('x1', x); ln.setAttribute('y1', y1);
  ln.setAttribute('x2', x); ln.setAttribute('y2', y2 - len + notch);
  ln.setAttribute('stroke', '#000'); ln.setAttribute('stroke-width', 3);
  svg.appendChild(ln);
  const hd = document.createElementNS(NS, 'polygon');
  hd.setAttribute('points', `${x},${y2} ${x - half},${y2 - len} ${x},${y2 - len + notch} ${x + half},${y2 - len}`);
  hd.setAttribute('fill', '#000');
  svg.appendChild(hd);
});
</script>
</body>
</html>
